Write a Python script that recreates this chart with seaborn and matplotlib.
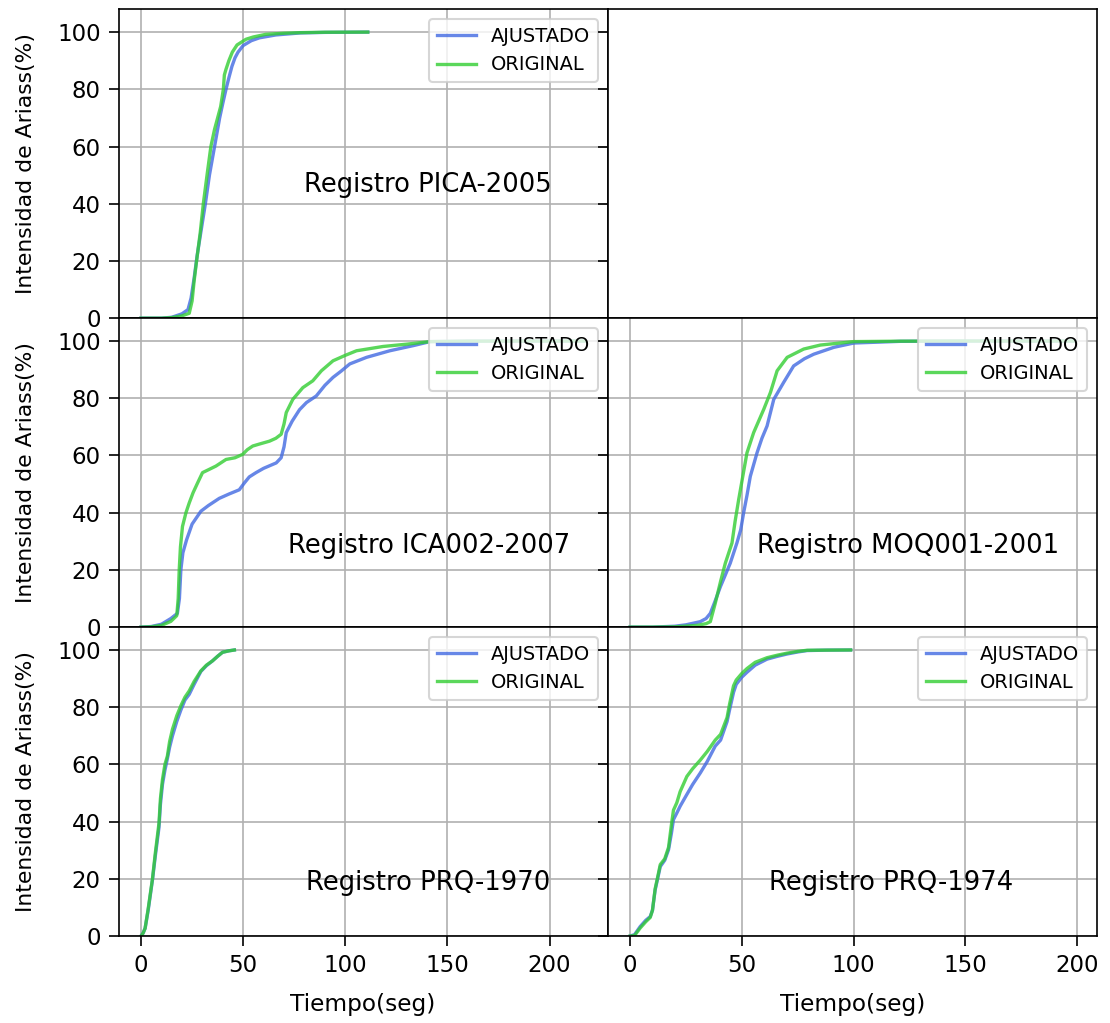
import matplotlib
matplotlib.use("Agg")
import matplotlib.pyplot as plt
import seaborn as sns
import numpy as np

# ---------------- data ----------------
labels = ["AJUSTADO", "ORIGINAL"]
registros = ["Registro PICA-2005", "Registro ICA002-2007", "Registro MOQ001-2001",
             "Registro PRQ-1970", "Registro PRQ-1974"]

# PICA-2005
pica_t_aj = [0, 10, 15, 20, 23, 24.5, 26, 27.5, 29.5, 31.5, 33.5, 35.5, 37, 38.5, 40, 41.6, 43, 44.5, 46, 47.5, 50, 54, 58, 66, 78, 90, 111]
pica_p_aj = [0, 0, 0.3, 1.5, 3, 7, 14, 22, 31, 40, 50, 58, 64, 70, 75, 80, 84, 88, 91, 93, 95.3, 97, 98, 99, 99.7, 99.9, 100]
pica_t_or = [0, 10, 15, 20, 23.6, 25, 26, 27.2, 29, 30.5, 32.5, 34.2, 36, 37.5, 39, 40.3, 40.8, 41.6, 43, 44.7, 47, 51.4, 55, 61, 70, 77.6, 90, 111]
pica_p_or = [0, 0, 0.2, 0.8, 1.7, 6, 13, 20, 30, 40, 51, 60, 66, 70, 74, 80, 85, 87, 90, 93, 95.5, 97.5, 98.3, 99.2, 99.6, 99.8, 99.95, 100]

# ICA002-2007
ica_t_aj = [0, 5, 10, 14.6, 17.8, 18.8, 19.5, 20.5, 22.3, 25, 29.3, 33, 38.3, 43, 48.1, 50.6, 53, 56.3, 60, 66.2, 68.6, 70, 71.1, 74, 77.6, 81, 85.8, 90, 94, 98, 102.2, 110.4, 121.8, 133.3, 141.5, 160, 190, 217]
ica_p_aj = [0, 0.2, 1, 3, 4.8, 10, 20, 26, 30.5, 36, 40.5, 42.5, 45, 46.5, 48, 50.4, 52.5, 54, 55.5, 57.4, 59.2, 63, 68, 72, 76, 78.5, 80.8, 84.5, 87.3, 89.5, 92, 94.3, 96.6, 98.4, 99.8, 99.95, 100, 100]
ica_t_or = [0, 5, 10, 14.6, 17.5, 18.2, 18.7, 19.3, 20.3, 22, 23.6, 25.5, 27.7, 30.1, 33, 36.7, 41.6, 46, 49.8, 52, 54.7, 58, 62.9, 66, 68.6, 70, 71.1, 74.3, 79.2, 84.1, 88.3, 94, 100, 105.5, 118.5, 130, 141.5, 160, 190, 217]
ica_p_or = [0, 0.1, 0.6, 2, 4, 10, 20, 28, 35.2, 40, 43.4, 47, 50.4, 54, 55, 56.3, 58.6, 59.2, 60.4, 62, 63.3, 64, 65, 66, 67.4, 71, 75, 79.6, 83.7, 86.1, 89.6, 93.1, 95, 96.6, 98.1, 98.9, 99.8, 99.95, 100, 100]

# MOQ001-2001
moq_t_aj = [0, 10, 20, 25, 31.4, 34, 35.9, 38, 40.4, 42.5, 44.8, 47.8, 49.5, 50.8, 52.3, 53.8, 56.8, 59, 61.3, 64.3, 68.7, 73.2, 78, 82.2, 91.2, 100.1, 121, 150, 199]
moq_p_aj = [0, 0, 0.3, 0.8, 1.9, 3, 4.8, 9, 14.1, 18, 22.3, 29.4, 34, 39.9, 46, 52.7, 60.9, 66, 70.3, 79.6, 85.5, 91.3, 93.8, 95.4, 97.8, 99.3, 99.9, 100, 100]
moq_t_or = [0, 10, 20, 30, 34, 35.9, 38.1, 40.5, 42.6, 45.6, 47, 48.6, 50.5, 52.3, 55.3, 59.8, 62.8, 65.8, 70.3, 77.7, 85.2, 100.1, 121, 150, 199]
moq_p_or = [0, 0, 0.1, 0.6, 1.2, 1.9, 8.3, 16, 22.3, 29.4, 37, 44.6, 53, 60.9, 68, 76.1, 82, 89.6, 94.3, 97.2, 98.6, 99.8, 99.95, 100, 100]

# PRQ-1970
p70_t = [0, 1, 2, 3.5, 5.6, 7, 8.8, 9.5, 10.5, 11.7, 12.9, 14, 15.4, 17.5, 19.5, 21.5, 23.6, 26, 29.3, 32, 35, 37.5, 39.9, 43, 45.7]
p70_p_aj = [0, 1, 2.7, 9, 19.6, 28, 38, 46, 53, 58, 62, 66, 70, 75, 79, 82.5, 84.5, 88, 92.5, 94.5, 96.2, 97.8, 99.2, 99.7, 100]
p70_p_or = [0, 1, 2.7, 9.5, 20, 29, 39.5, 48, 54.7, 60, 62.9, 68, 72.3, 77, 80.5, 83.5, 85.7, 89, 92.7, 94.7, 96.2, 97.8, 99.2, 99.7, 100]

# PRQ-1974
p74_t = [0, 2, 4.5, 7, 9, 10, 11.2, 12.3, 13.5, 15.5, 17.2, 18.5, 19.4, 20.9, 22.4, 25.4, 28, 31.4, 34.5, 38.1, 40.5, 43.4, 44.5, 46.3, 47.5, 50, 52.3, 56, 61.3, 66, 70.3, 75, 79.2, 88, 98.7]
p74_p_aj = [0, 0.5, 3.3, 5.5, 6.8, 9, 16.1, 20, 24.3, 26.5, 30.2, 36, 40.7, 43, 45.4, 49.5, 53, 57, 61, 66.4, 68.5, 75, 79, 85.2, 88, 90.5, 92.2, 94.7, 96.8, 97.8, 98.6, 99.3, 99.8, 99.95, 100]
p74_p_or = [0, 0.2, 2.8, 5, 6.5, 9, 16.5, 20.5, 25, 27, 31, 39, 44, 46.6, 50.5, 55.8, 58.5, 61.5, 64.5, 68.5, 70.5, 76.4, 81, 87.5, 89.5, 91.8, 93.5, 95.7, 97.3, 98.2, 98.9, 99.5, 99.9, 99.95, 100]

ylabel = "Intensidad de Ariass(%)"
xlabel = "Tiempo(seg)"

# ---------------- style ----------------
plt.rcdefaults()
plt.rcParams.update({"font.family": ["DejaVu Sans"], "font.size": 10,
                     "xtick.labelsize": 11, "ytick.labelsize": 11,
                     "xtick.major.size": 5, "ytick.major.size": 5})
col_aj = "royalblue"
col_or = "limegreen"

fig, axes = plt.subplots(3, 2, sharex="col", sharey=True, figsize=(7.4, 6.82), dpi=150)
fig.subplots_adjust(left=0.1068, right=0.9883, top=0.991, bottom=0.085, hspace=0, wspace=0)

panels = [
    (axes[0, 0], pica_t_aj, pica_p_aj, pica_t_or, pica_p_or, registros[0], (80, 44)),
    (axes[1, 0], ica_t_aj, ica_p_aj, ica_t_or, ica_p_or, registros[1], (72, 26)),
    (axes[1, 1], moq_t_aj, moq_p_aj, moq_t_or, moq_p_or, registros[2], (57, 26)),
    (axes[2, 0], p70_t, p70_p_aj, p70_t, p70_p_or, registros[3], (81, 16)),
    (axes[2, 1], p74_t, p74_p_aj, p74_t, p74_p_or, registros[4], (62, 16)),
]

for ax, ta, pa, to, po, name, (tx, ty) in panels:
    sns.lineplot(x=np.array(ta), y=np.array(pa), ax=ax, color=col_aj, alpha=0.8,
                 linewidth=1.6, label=labels[0], estimator=None, sort=False)
    sns.lineplot(x=np.array(to), y=np.array(po), ax=ax, color=col_or, alpha=0.8,
                 linewidth=1.6, label=labels[1], estimator=None, sort=False)
    ax.grid(True, color="#b0b0b0", linewidth=0.8)
    ax.legend(loc="upper right", fontsize=9.3)
    ax.text(tx, ty, name, fontsize=12.4, ha="left", va="baseline")
    ax.set_xlabel("")
    ax.set_ylabel("")

axes[0, 1].grid(False)

axes[0, 0].set_xlim(-11, 228.5)
axes[0, 1].set_xlim(-10, 209)
axes[0, 0].set_ylim(0, 108)
for ax in axes[:, 0]:
    ax.set_ylabel(ylabel, fontsize=10.5, labelpad=10)
for ax in axes[2, :]:
    ax.set_xlabel(xlabel, fontsize=11.2, labelpad=8)
    ax.set_xticks([0, 50, 100, 150, 200])
for ax in axes.flat:
    ax.set_yticks([0, 20, 40, 60, 80, 100])

fig.savefig("out.png", dpi=150)
